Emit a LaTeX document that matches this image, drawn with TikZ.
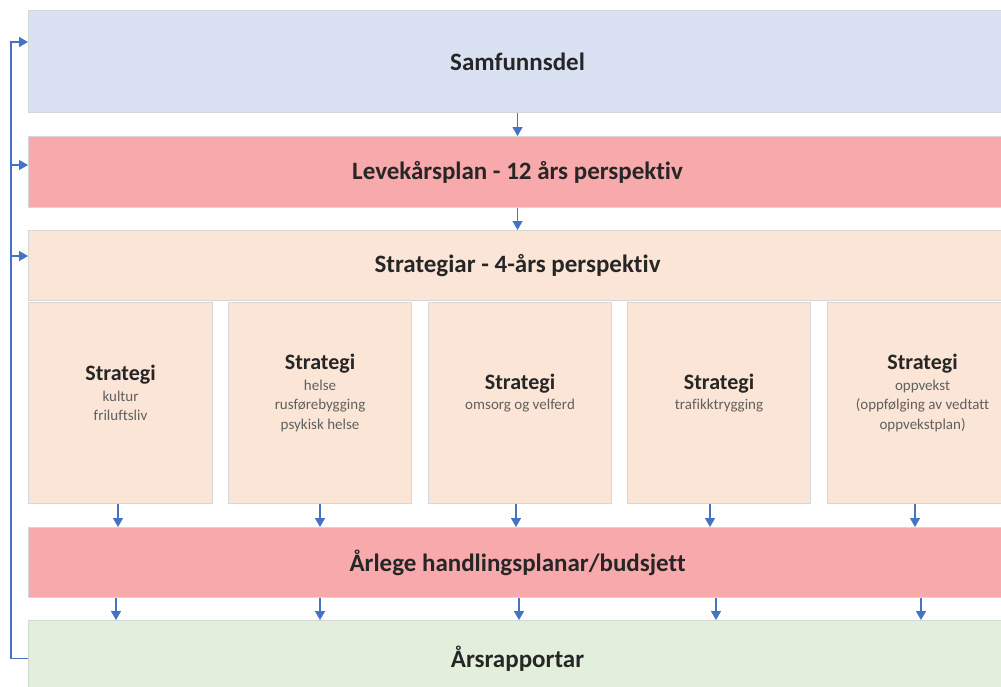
\documentclass[tikz,border=0pt]{standalone}
\usepackage{fontspec}
\setmainfont{Carlito}[Ligatures={NoCommon}]
\usetikzlibrary{arrows.meta,calc}
\definecolor{samfc}{HTML}{D9E1F2}
\definecolor{redc}{HTML}{F8A9AB}
\definecolor{stratc}{HTML}{FBE5D6}
\definecolor{greenc}{HTML}{E2EFDA}
\definecolor{bordc}{HTML}{D6D6D6}
\definecolor{arrc}{HTML}{4472C4}
\definecolor{txtc}{HTML}{262626}
\definecolor{subc}{HTML}{606060}
\tikzset{
  box/.style={draw=bordc, line width=1.1pt, anchor=north west, inner sep=0pt, text=txtc,
    font=\bfseries\fontsize{25}{30}\selectfont},
  stxt/.style={align=center, text=subc, font=\fontsize{15}{19.5}\selectfont},
  arr/.style={draw=arrc, line width=1.4pt, -{Triangle[width=10pt,length=9pt]}},
}
\newcommand{\stitle}{{\bfseries\fontsize{22}{26}\selectfont\color{txtc}Strategi}}
\begin{document}
\begin{tikzpicture}[x=1pt,y=-1pt]
\clip (0,0) rectangle (1001,686);
\fill[white] (0,0) rectangle (1001,686);
% main boxes
\node[box, fill=samfc, minimum width=978pt, minimum height=102pt] (samf) at (28,10) {Samfunnsdel};
\node[box, fill=redc, minimum width=978pt, minimum height=71pt] (leve) at (28,136) {Levekårsplan - 12 års perspektiv};
\node[box, fill=stratc, minimum width=978pt, minimum height=70pt] (strat) at (28,230) {Strategiar - 4-års perspektiv};
% strategy boxes
\node[box, fill=stratc, minimum width=184pt, minimum height=201pt] (s1) at (28,302) {};
\node[box, fill=stratc, minimum width=183pt, minimum height=201pt] (s2) at (228,302) {};
\node[box, fill=stratc, minimum width=183pt, minimum height=201pt] (s3) at (428,302) {};
\node[box, fill=stratc, minimum width=183pt, minimum height=201pt] (s4) at (627,302) {};
\node[box, fill=stratc, minimum width=190pt, minimum height=201pt] (s5) at (827,302) {};
\node[stxt] (t1) at ($(s1.center)+(0,-10)$) {\stitle\\[1pt]kultur\\friluftsliv};
\node[stxt] (t2) at ($(s2.center)+(0,-10)$) {\stitle\\[1pt]helse\\rusførebygging\\psykisk helse};
\node[stxt] (t3) at ($(s3.center)+(0,-10)$) {\stitle\\[1pt]omsorg og velferd};
\node[stxt] (t4) at ($(s4.center)+(0,-10)$) {\stitle\\[1pt]trafikktrygging};
\node[stxt] (t5) at ($(s5.center)+(0,-10)$) {\stitle\\[1pt]oppvekst\\(oppfølging av vedtatt\\oppvekstplan)};
\node[box, fill=redc, minimum width=978pt, minimum height=70pt] (arl) at (28,527) {Årlege handlingsplanar/budsjett};
\node[box, fill=greenc, minimum width=978pt, minimum height=76pt] (arsr) at (28,620) {\raisebox{4pt}{Årsrapportar}};
% arrow x positions
\coordinate (a1) at (118,0);
\coordinate (a2) at (320,0);
\coordinate (a3) at (516,0);
\coordinate (a4) at (710,0);
\coordinate (a5) at (915,0);
\coordinate (b1) at (116,0);
\coordinate (b2) at (320,0);
\coordinate (b3) at (519,0);
\coordinate (b4) at (716,0);
\coordinate (b5) at (921,0);
\coordinate (fbx) at (11,0);
% vertical arrows
\draw[arr] (samf.south) -- (leve.north);
\draw[arr] (leve.south) -- (strat.north);
\draw[arr] (s1.south -| a1) -- (arl.north -| a1);
\draw[arr] (s2.south -| a2) -- (arl.north -| a2);
\draw[arr] (s3.south -| a3) -- (arl.north -| a3);
\draw[arr] (s4.south -| a4) -- (arl.north -| a4);
\draw[arr] (s5.south -| a5) -- (arl.north -| a5);
\draw[arr] (arl.south -| b1) -- (arsr.north -| b1);
\draw[arr] (arl.south -| b2) -- (arsr.north -| b2);
\draw[arr] (arl.south -| b3) -- (arsr.north -| b3);
\draw[arr] (arl.south -| b4) -- (arsr.north -| b4);
\draw[arr] (arl.south -| b5) -- (arsr.north -| b5);
% feedback loop
\coordinate (inS) at ($(samf.north west)+(0,32)$);
\coordinate (inL) at ($(leve.north west)+(0,29)$);
\coordinate (inT) at ($(strat.north west)+(0,26)$);
\draw[arr] (arsr.west) -- (arsr.west -| fbx) |- (inS);
\draw[arr] (inL -| fbx) -- (inL);
\draw[arr] (inT -| fbx) -- (inT);
\end{tikzpicture}
\end{document}
